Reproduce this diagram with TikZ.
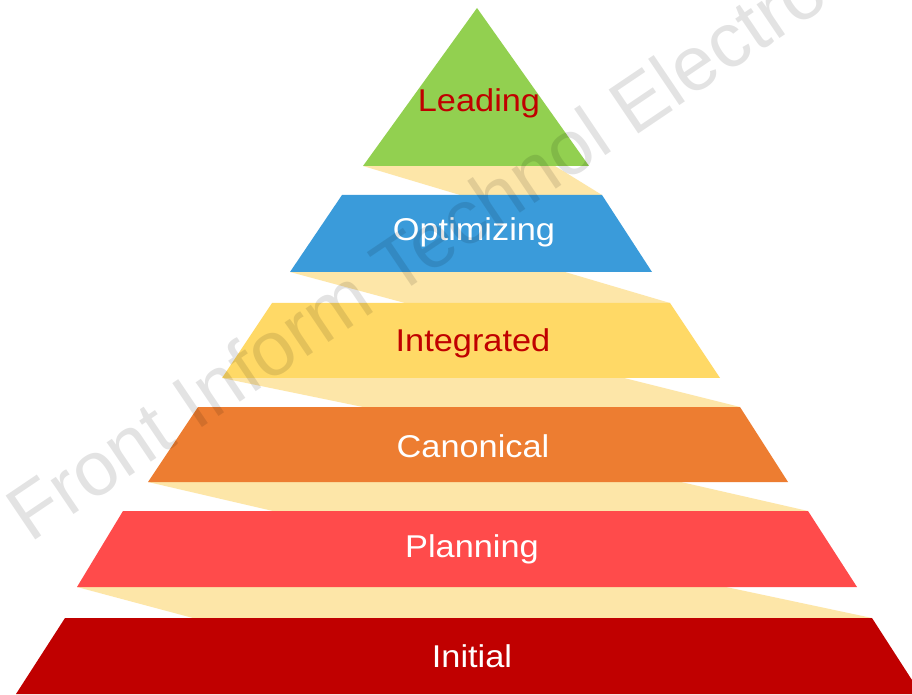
\documentclass[tikz,border=0pt]{standalone}
\usepackage{fontspec}
\setmainfont{Liberation Sans}
\definecolor{lvgreen}{HTML}{92D050}
\definecolor{lvblue}{HTML}{3A9BDA}
\definecolor{lvgold}{HTML}{FFD966}
\definecolor{lvorange}{HTML}{ED7D31}
\definecolor{lvred}{HTML}{FF4B4B}
\definecolor{lvdark}{HTML}{C00000}
\definecolor{ribbon}{HTML}{FDE6A8}
\definecolor{labelred}{HTML}{C00000}
\tikzset{
  ribbonband/.style={fill=ribbon, draw=none},
  levelbox/.style={draw=none},
  levellabel/.style={anchor=base, inner sep=0pt, xscale=1.09,
    font=\fontsize{31.5}{36}\selectfont},
  wmark/.style={anchor=base west, inner sep=0pt, rotate=34,
    text=black, text opacity=0.11, font=\fontsize{77}{82}\selectfont}
}
\begin{document}
\begin{tikzpicture}[x=1pt,y=1pt]
\useasboundingbox (0,0) rectangle (912,694);
\clip (0,0) rectangle (912,694);
\fill[white] (0,0) rectangle (912,694);

% folded ribbon behind the levels
\fill[ribbonband] (363,528) -- (555,528) -- (602,499) -- (460,499) -- cycle;
\fill[ribbonband] (290,422) -- (565,422) -- (670,391) -- (405,391) -- cycle;
\fill[ribbonband] (222,316) -- (624,316) -- (740,287) -- (363,287) -- cycle;
\fill[ribbonband] (148,212) -- (681,212) -- (808,183) -- (273,183) -- cycle;
\fill[ribbonband] (77,107) -- (726,107) -- (872,76) -- (193,76) -- cycle;

% pyramid levels
\fill[levelbox, lvgreen]  (477,686) -- (589,528) -- (363,528) -- cycle;
\fill[levelbox, lvblue]   (342,499) -- (602,499) -- (652,422) -- (290,422) -- cycle;
\fill[levelbox, lvgold]   (272,391) -- (670,391) -- (720,316) -- (222,316) -- cycle;
\fill[levelbox, lvorange] (198,287) -- (740,287) -- (788,212) -- (148,212) -- cycle;
\fill[levelbox, lvred]    (123,183) -- (808,183) -- (857,107) -- (77,107) -- cycle;
\fill[levelbox, lvdark]   (65,76) -- (872,76) -- (921,0) -- (16,0) -- cycle;

% level names
\node[levellabel, text=labelred] (leading)    at (479,582) {Leading};
\node[levellabel, text=white]    (optimizing) at (474,453) {Optimizing};
\node[levellabel, text=labelred] (integrated) at (473,342) {Integrated};
\node[levellabel, text=white]    (canonical)  at (473,237) {Canonical};
\node[levellabel, text=white]    (planning)   at (472,137) {Planning};
\node[levellabel, text=white]    (initial)    at (472,27)  {Initial};

% journal watermark
\node[wmark] (watermark) at (30,150) {Front Inform Technol Electron};
\end{tikzpicture}
\end{document}
